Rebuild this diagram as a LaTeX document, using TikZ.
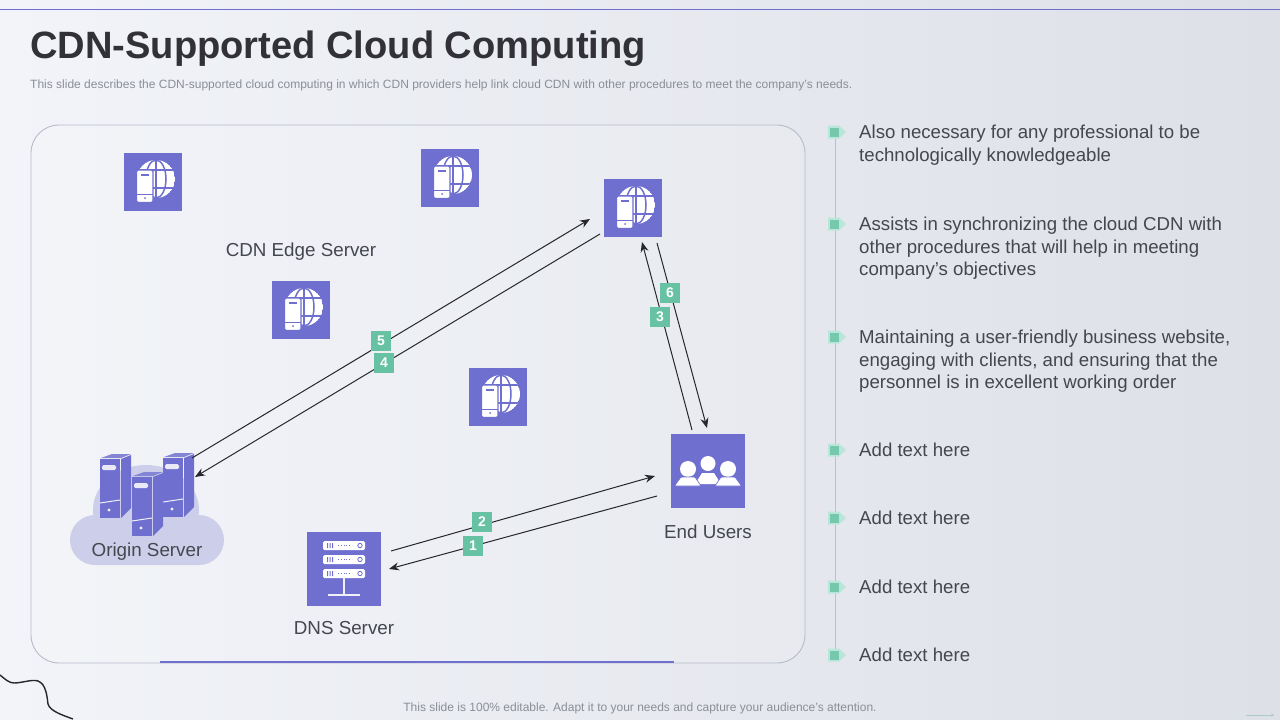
\documentclass[tikz,border=0pt]{standalone}
\usepackage{fontspec}
\setmainfont{Liberation Sans}
\usetikzlibrary{arrows.meta, calc, shapes.geometric}
\definecolor{iconBlue}{HTML}{6F6FCF}
\definecolor{tagGreen}{HTML}{66C2A2}
\definecolor{haloGreen}{HTML}{B9E6D9}
\definecolor{cloudBlue}{HTML}{CDCFEA}
\definecolor{inkDark}{HTML}{26262C}
\definecolor{textDark}{HTML}{45474F}
\definecolor{textGrey}{HTML}{8B8E96}
\definecolor{panelEdge}{HTML}{B7BBC8}
\definecolor{railGrey}{HTML}{B4C6C4}
\definecolor{paperLeft}{HTML}{F2F4F9}
\definecolor{paperRight}{HTML}{DDE0E7}
\tikzset{
  tile/.style={fill=iconBlue, inner sep=0pt, minimum size=#1},
  tag/.style={fill=tagGreen, text=white, inner sep=0pt, minimum width=20pt, minimum height=20pt,
    font=\fontsize{14}{14}\selectfont\bfseries},
  caption/.style={text=textDark, inner sep=0pt, font=\fontsize{18.8}{23}\selectfont},
  flow/.style={-{Stealth[length=10pt,width=8pt]}, draw=inkDark, line width=1pt},
  point/.style={fill=tagGreen!90!white, inner sep=0pt, minimum width=9pt, minimum height=9pt},
  pointtext/.style={anchor=north west, align=left, text=textDark, inner sep=0pt,
    font=\fontsize{18.65}{22.8}\selectfont},
  % edge server: globe behind a handset
  edgeglyph/.pic={
    \begin{scope}
    \clip (3,-3) circle [radius=19];
    \fill[white] (3,-3) circle [radius=19];
    \draw[iconBlue, line width=1.5pt] (3,-3) ellipse [x radius=10, y radius=19];
    \draw[iconBlue, line width=1.5pt] (3,-22) -- (3,16);
    \draw[iconBlue, line width=1.5pt] (-16,-12) -- (22,-12) (-16,6) -- (22,6);
    \end{scope}
    \fill[white, draw=iconBlue, line width=1.2pt, rounded corners=1.5pt] (-16.5,-12) rectangle (0,20.5);
    \fill[iconBlue] (-12,-8) rectangle (-4,-6);
    \fill[iconBlue] (-8,16) circle [radius=1];
    \draw[iconBlue, line width=0.8pt] (-16,12) -- (0,12);
  },
  % origin server tower, origin at top left of the front face
  towerglyph/.pic={
    \fill[iconBlue] (0,0) rectangle (20,59);
    \fill[iconBlue] (21,0) -- (31,-4) -- (31,49) -- (21,59) -- cycle;
    \fill[iconBlue!85!white] (1,-1) -- (12,-5) -- (31,-5) -- (21,-1) -- cycle;
    \fill[white!85!iconBlue, rounded corners=1.5pt] (2,6) rectangle (16,11);
    \draw[white!90!iconBlue, line width=1pt] (0,44) -- (20,41);
    \fill[white!90!iconBlue] (9,51) circle [radius=1.6];
  },
}
\begin{document}
\begin{tikzpicture}[x=1pt,y=-1pt]
\useasboundingbox (0,0) rectangle (1280,720);
\shade[left color=paperLeft, right color=paperRight] (0,0) rectangle (1280,720);
\draw[iconBlue, line width=0.8pt] (0,9) -- (1280,9);

% Heading
\node[anchor=west, inner sep=0pt, text=inkDark!95!white, font=\fontsize{38.1}{38}\selectfont\bfseries] (title) at (30,49) {CDN-Supported Cloud Computing};
\node[anchor=west, inner sep=0pt, text=textGrey, font=\fontsize{12}{12}\selectfont] (subtitle) at (30,85) {This slide describes the CDN-supported cloud computing in which CDN providers help link cloud CDN with other procedures to meet the company's needs.};

% Panel
\draw[panelEdge, fill=white, fill opacity=0.12, line width=0.9pt, rounded corners=28pt] (31,125) rectangle (805,663);
\draw[iconBlue, line width=2pt] (160,662) -- (674,662);

% Cloud behind the origin servers
\fill[cloudBlue, rounded corners=25pt] (70,515) rectangle (224,565);
\fill[cloudBlue] (146,510) ellipse [x radius=53, y radius=45];

\pic at (100,459) {towerglyph};
\pic at (163,458) {towerglyph};
\pic at (132,477) {towerglyph};

% Edge servers
\foreach \nm/\pos in {edgeA/{(153,182)}, edgeB/{(450,178)}, edgeC/{(633,208)}, edgeD/{(301,310)}, edgeE/{(498,397)}}{
  \node[tile=58pt] (\nm) at \pos {};
  \pic at (\nm) {edgeglyph};
}

% DNS server
\node[tile=74pt] (dns) at (344,569) {};
\foreach \yy in {541,555,569}{
  \fill[white, rounded corners=1.5pt] (323,\yy) rectangle (365,\yy+9);
  \fill[iconBlue] (327,\yy+2) rectangle (328,\yy+7) (329.5,\yy+2) rectangle (330.5,\yy+7) (332,\yy+2) rectangle (333,\yy+7);
  \draw[iconBlue, line width=0.8pt, dotted] (338,\yy+4.5) -- (352,\yy+4.5);
  \draw[iconBlue, line width=0.8pt] (360,\yy+4.5) circle [radius=2.2];
}
\draw[white!90!iconBlue, line width=2pt] (343.5,578) -- (343.5,595);
\draw[white!90!iconBlue, line width=2pt] (328,595) -- (360,595);

% End users
\node[tile=74pt] (users) at (708,471) {};
\fill[white] (708,463.5) circle [radius=7.5];
\fill[white] (688,469) circle [radius=8];
\fill[white] (728,469) circle [radius=8];
\fill[white] (697,481) -- (702,473) -- (714,473) -- (719,481) -- (716,484) -- (700,484) -- cycle;
\fill[white, draw=iconBlue, line width=0.6pt, rounded corners=1pt] (674.5,486) -- (681,477) -- (695,477) -- (701,486) -- cycle;
\fill[white, draw=iconBlue, line width=0.6pt, rounded corners=1pt] (715,486) -- (721,477) -- (735,477) -- (741.5,486) -- cycle;

% Labels
\node[caption] (edgelabel) at (301,252) {CDN Edge Server};
\node[caption] (originlabel) at (147,552) {Origin Server};
\node[caption] (dnslabel) at (344,628) {DNS Server};
\node[caption] (userslabel) at (708,532) {End Users};

% Free ends of the flows
\coordinate (originUp) at (192,458);
\coordinate (originDn) at (195,477);
\coordinate (edgeUp) at (590,219);
\coordinate (edgeDn) at (600,234);
\coordinate (edgeL) at (642,242);
\coordinate (edgeR) at (657,243);
\coordinate (usersL) at (692,430);
\coordinate (usersR) at (707,428);
\coordinate (usersUp) at (655,476);
\coordinate (usersDn) at (657,496);
\coordinate (dnsUp) at (391,551);
\coordinate (dnsDn) at (389,569);

\draw[flow] (originUp) -- (edgeUp);
\draw[flow] (edgeDn) -- (originDn);
\draw[flow] (usersL) -- (edgeL);
\draw[flow] (edgeR) -- (usersR);
\draw[flow] (dnsUp) -- (usersUp);
\draw[flow] (usersDn) -- (dnsDn);

\node[tag] (tagfive) at (381,341) {5};
\node[tag] (tagfour) at (384,363) {4};
\node[tag] (tagthree) at (660,317) {3};
\node[tag] (tagsix) at (670,293) {6};
\node[tag] (tagtwo) at (482,522) {2};
\node[tag] (tagone) at (473,546) {1};

% Right hand list
\draw[railGrey, line width=0.9pt] (835,132) -- (835,655);
\foreach \nm/\yy/\txt in {
  ptA/132/{Also necessary for any professional to be\\technologically knowledgeable},
  ptB/224/{Assists in synchronizing the cloud CDN with\\other procedures that will help in meeting\\company's objectives},
  ptC/337/{Maintaining a user-friendly business website,\\engaging with clients, and ensuring that the\\personnel is in excellent working order},
  ptD/450/{Add text here},
  ptE/518/{Add text here},
  ptF/587/{Add text here},
  ptG/655/{Add text here}}{
  \fill[haloGreen] (828,\yy-6.5) -- (839,\yy-6.5) -- (846,\yy) -- (839,\yy+6.5) -- (828,\yy+6.5) -- cycle;
  \node[point] (\nm) at (834.5,\yy) {};
  \node[pointtext] (\nm text) at (859,\yy-7.5) {\txt};
}

% Footer
\node[inner sep=0pt, text=textGrey, font=\fontsize{12}{12}\selectfont] (footer) at (640,708.5) {This slide is 100\% editable. Adapt it to your needs and capture your audience's attention.};
\draw[inkDark, line width=1.4pt] (0,675) .. controls (5,679) and (9,683) .. (14,683) .. controls (22,683) and (32,679) .. (38,681) .. controls (46,684) and (47,696) .. (48,704) .. controls (50,711) and (62,715) .. (73,719);
\draw[haloGreen!75!gray, line width=0.8pt, -{Stealth[length=3pt,width=3pt]}] (1246,715) -- (1274,715);
\end{tikzpicture}
\end{document}
